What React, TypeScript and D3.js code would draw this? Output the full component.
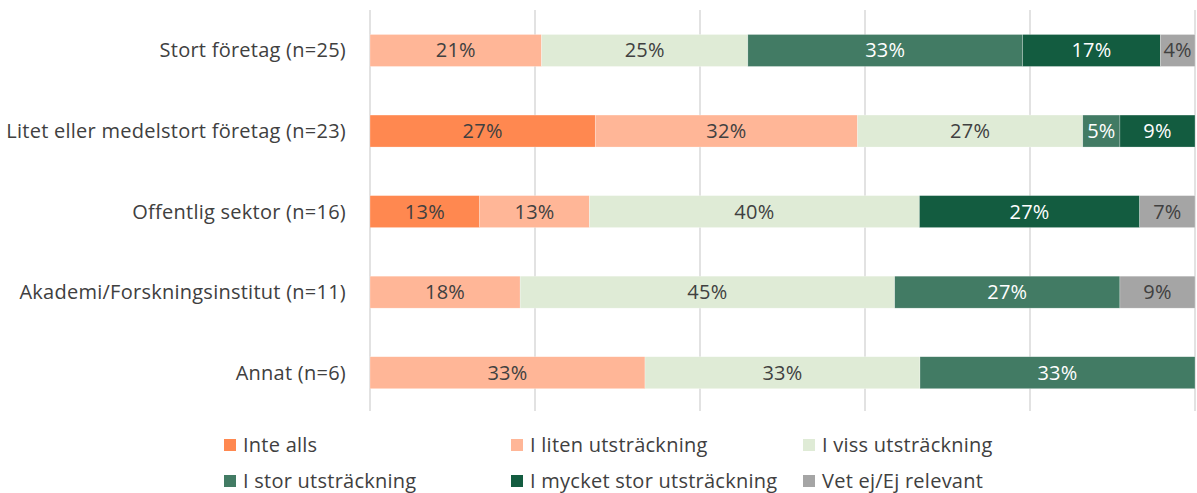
import React from "react";
import * as d3 from "d3";

const categories = [
  "Stort företag (n=25)",
  "Litet eller medelstort företag (n=23)",
  "Offentlig sektor (n=16)",
  "Akademi/Forskningsinstitut (n=11)",
  "Annat (n=6)",
];
const seriesNames = [
  "Inte alls",
  "I liten utsträckning",
  "I viss utsträckning",
  "I stor utsträckning",
  "I mycket stor utsträckning",
  "Vet ej/Ej relevant",
];
const inteAlls = [0, 27.3, 13.3, 0, 0];
const iLiten = [20.8, 31.8, 13.3, 18.2, 33.3];
const iViss = [25.0, 27.3, 40.0, 45.4, 33.3];
const iStor = [33.3, 4.5, 0, 27.3, 33.3];
const iMycketStor = [16.7, 9.1, 26.7, 0, 0];
const vetEj = [4.2, 0, 6.7, 9.1, 0];
const xTicks = [0, 0.2, 0.4, 0.6, 0.8, 1];

const colors = ["#ff8850", "#ffb697", "#dfebd6", "#427b64", "#135c40", "#a5a5a5"];
const textColors = ["#404040", "#404040", "#404040", "#ffffff", "#ffffff", "#404040"];

const W = 1197;
const H = 493;
const FONT = "'Open Sans', Lato, sans-serif";
const LS = 0.25;

export default function App() {
  const seriesValues = [inteAlls, iLiten, iViss, iStor, iMycketStor, vetEj];
  const rows = categories.map((c, i) => {
    const r: any = { cat: c };
    seriesNames.forEach((s, j) => (r[s] = seriesValues[j][i]));
    return r;
  });
  const stack = d3.stack<any>().keys(seriesNames).offset(d3.stackOffsetExpand);
  const stacked = stack(rows);

  const x = d3.scaleLinear().domain([0, 1]).range([370, 1195]);
  const y = d3
    .scaleBand<string>()
    .domain(categories)
    .range([10, 413.2])
    .paddingInner(0.603)
    .paddingOuter(0.304);

  const legendCols = [224, 511, 803];
  const legendRows = [445, 481];

  return (
    <svg width={W} height={H} style={{ position: "absolute", left: 0, top: 0 }} fontFamily={FONT}>
      <rect width={W} height={H} fill="#fff" />
      {xTicks.map((t) => (
        <line key={t} x1={x(t)} x2={x(t)} y1={10} y2={411} stroke="#d9d9d9" strokeWidth={1.5} />
      ))}
      {stacked.map((layer, si) =>
        layer.map((d, ci) => {
          const v = seriesValues[si][ci];
          if (!v) return null;
          const x0 = x(d[0]);
          const x1 = x(d[1]);
          const yy = y(categories[ci])!;
          const bh = y.bandwidth();
          return (
            <g key={si + "-" + ci}>
              <rect x={x0} y={yy} width={x1 - x0} height={bh} fill={colors[si]} stroke="#fff" strokeWidth={0.5} strokeOpacity={0.5} />
              <text
                x={(x0 + x1) / 2}
                y={yy + bh / 2}
                dy="0.35em"
                textAnchor="middle"
                fontSize={20}
                letterSpacing={LS}
                fill={textColors[si]}
              >
                {Math.round(v) + "%"}
              </text>
            </g>
          );
        })
      )}
      {categories.map((c) => (
        <text
          key={c}
          x={346}
          y={y(c)! + y.bandwidth() / 2}
          dy="0.35em"
          textAnchor="end"
          fontSize={20}
          letterSpacing={LS}
          fill="#404040"
        >
          {c}
        </text>
      ))}
      {seriesNames.map((s, i) => {
        const cx = legendCols[i % 3];
        const cy = legendRows[Math.floor(i / 3)];
        return (
          <g key={s}>
            <rect x={cx} y={cy - 6} width={12} height={12} fill={colors[i]} />
            <text x={cx + 19} y={cy} dy="0.35em" fontSize={20} letterSpacing={LS} fill="#404040">
              {s}
            </text>
          </g>
        );
      })}
    </svg>
  );
}
